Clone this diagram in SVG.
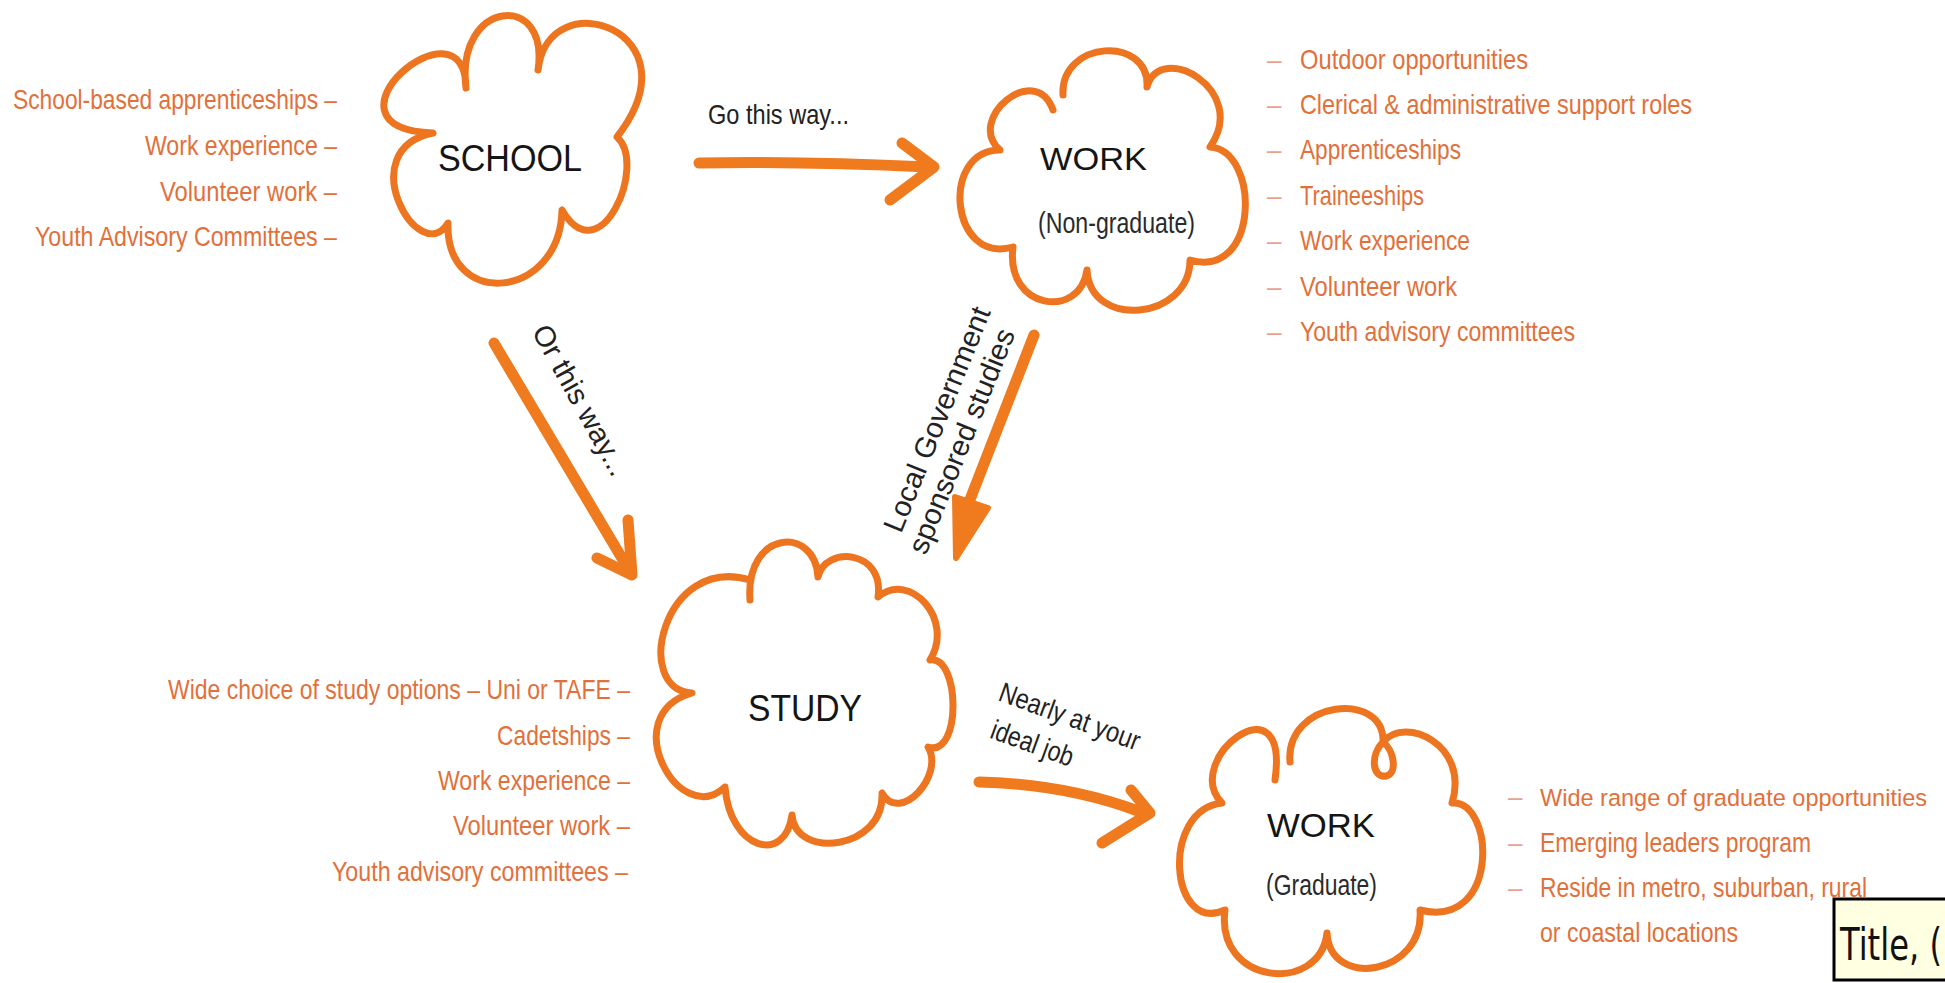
<svg xmlns="http://www.w3.org/2000/svg" width="1945" height="983" viewBox="0 0 1945 983">
<style>
.cloud{fill:none;stroke:#EE7520;stroke-width:7;stroke-linecap:round;stroke-linejoin:round}
.arrow{fill:none;stroke:#F07A1E;stroke-width:11;stroke-linecap:round;stroke-linejoin:round}
.head{fill:#F07A1E;stroke:#F07A1E;stroke-width:6;stroke-linejoin:round}
.title{font-family:"Liberation Sans",Arial,sans-serif;fill:#151515}
.sub{font-family:"Liberation Sans",Arial,sans-serif;fill:#2a2a2a;font-size:30px}
.lbl{font-family:"Liberation Sans",Arial,sans-serif;fill:#222;font-size:29px}
.nlbl{font-family:"Liberation Sans",Arial,sans-serif;fill:#222;font-size:28px}
.item{font-family:"Liberation Sans",Arial,sans-serif;font-size:28px;fill:#E2703A}
.dash{font-family:"Liberation Sans",Arial,sans-serif;font-size:26px;fill:#EBA08F}
</style>
<rect width="1945" height="983" fill="#ffffff"/>

<g id="connectors">
  <g id="edge-school-work">
    <path class="arrow" d="M699,163 Q800,161 928,167"/>
    <path class="arrow" d="M902,143 L934,167 L890,200"/>
  </g>
  <g id="edge-school-study">
    <path class="arrow" d="M494,343 L629,570"/>
    <path class="arrow" d="M628,520 L632,575 L597,558"/>
  </g>
  <g id="edge-work-study">
    <path class="arrow" d="M1034,335 L964,515"/>
    <polygon class="head" points="955,497 988,508 956,558"/>
  </g>
  <g id="edge-study-grad">
    <path class="arrow" d="M979,782 Q1065,784 1138,811"/>
    <path class="arrow" d="M1131,790 L1150,813 L1102,843"/>
  </g>
  <text class="nlbl" x="708" y="124" font-size="31" textLength="141" lengthAdjust="spacingAndGlyphs">Go this way...</text>
  <text class="lbl" transform="translate(572,405) rotate(61)" x="0" y="0" text-anchor="middle" textLength="168" lengthAdjust="spacingAndGlyphs">Or this way...</text>
  <g transform="translate(946,423) rotate(-68)">
    <text class="lbl" x="0" y="0" text-anchor="middle" textLength="240" lengthAdjust="spacingAndGlyphs">Local Government</text>
    <text class="lbl" x="-11" y="31" text-anchor="middle" textLength="240" lengthAdjust="spacingAndGlyphs">sponsored studies</text>
  </g>
  <g transform="translate(997,700) rotate(20)">
    <text class="nlbl" x="0" y="0" textLength="148" lengthAdjust="spacingAndGlyphs">Nearly at your</text>
    <text class="nlbl" x="5" y="38" textLength="86" lengthAdjust="spacingAndGlyphs">ideal job</text>
  </g>
</g>

<g id="node-school">
  <path class="cloud" d="M466,88 C455,0 550,-10 538,70 C548,-20 700,30 617,137 C648,165 600,275 562,210 C560,300 445,310 448,223 C420,270 350,150 433,133 C306,128 465,-8 466,88"/>
  <text class="title" x="438" y="171" font-size="36" textLength="144" lengthAdjust="spacingAndGlyphs">SCHOOL</text>
  <g class="item">
    <text x="13" y="109" textLength="324" lengthAdjust="spacingAndGlyphs">School-based apprenticeships –</text>
    <text x="145" y="155" textLength="192" lengthAdjust="spacingAndGlyphs">Work experience –</text>
    <text x="160" y="201" textLength="177" lengthAdjust="spacingAndGlyphs">Volunteer work –</text>
    <text x="35" y="246" textLength="302" lengthAdjust="spacingAndGlyphs">Youth Advisory Committees –</text>
  </g>
</g>

<g id="node-work-nongraduate">
  <path class="cloud" d="M1063,95 C1060,40 1150,35 1147,87 C1160,40 1250,90 1210,147 C1260,150 1260,280 1190,260 C1190,320 1090,330 1087,270 C1080,320 1005,310 1013,247 C950,265 940,150 1000,150 C965,120 1035,60 1053,110"/>
  <text class="title" x="1040" y="170" font-size="32" textLength="107" lengthAdjust="spacingAndGlyphs">WORK</text>
  <text class="sub" x="1038" y="233" textLength="157" lengthAdjust="spacingAndGlyphs">(Non-graduate)</text>
  <g class="dash">
    <text x="1267" y="69">–</text>
    <text x="1267" y="114">–</text>
    <text x="1267" y="159">–</text>
    <text x="1267" y="205">–</text>
    <text x="1267" y="250">–</text>
    <text x="1267" y="296">–</text>
    <text x="1267" y="341">–</text>
  </g>
  <g class="item">
    <text x="1300" y="69" textLength="228" lengthAdjust="spacingAndGlyphs">Outdoor opportunities</text>
    <text x="1300" y="114" textLength="392" lengthAdjust="spacingAndGlyphs">Clerical &amp; administrative support roles</text>
    <text x="1300" y="159" textLength="161" lengthAdjust="spacingAndGlyphs">Apprenticeships</text>
    <text x="1300" y="205" textLength="124" lengthAdjust="spacingAndGlyphs">Traineeships</text>
    <text x="1300" y="250" textLength="170" lengthAdjust="spacingAndGlyphs">Work experience</text>
    <text x="1300" y="296" textLength="157" lengthAdjust="spacingAndGlyphs">Volunteer work</text>
    <text x="1300" y="341" textLength="275" lengthAdjust="spacingAndGlyphs">Youth advisory committees</text>
  </g>
</g>

<g id="node-study">
  <path class="cloud" d="M750,600 C745,530 815,525 818,577 C825,545 885,550 878,597 C910,570 955,620 930,660 C960,655 962,758 928,747 C945,775 900,825 882,793 C885,850 795,860 792,815 C785,865 730,850 725,787 C680,830 615,715 692,693 C632,690 663,554 750,580"/>
  <text class="title" x="748" y="721" font-size="36" textLength="114" lengthAdjust="spacingAndGlyphs">STUDY</text>
  <g class="item">
    <text x="168" y="699" textLength="462" lengthAdjust="spacingAndGlyphs">Wide choice of study options – Uni or TAFE –</text>
    <text x="497" y="745" textLength="133" lengthAdjust="spacingAndGlyphs">Cadetships –</text>
    <text x="438" y="790" textLength="192" lengthAdjust="spacingAndGlyphs">Work experience –</text>
    <text x="453" y="835" textLength="177" lengthAdjust="spacingAndGlyphs">Volunteer work –</text>
    <text x="332" y="881" textLength="296" lengthAdjust="spacingAndGlyphs">Youth advisory committees –</text>
  </g>
</g>

<g id="node-work-graduate">
  <path class="cloud" d="M1290,762 C1285,700 1385,690 1383,742 C1370,755 1372,778 1386,776 C1398,774 1394,750 1383,742 C1405,715 1470,745 1452,803 C1495,800 1500,930 1420,910 C1425,975 1330,990 1327,933 C1320,995 1215,985 1225,910 C1170,935 1160,810 1222,803 C1180,760 1290,675 1275,780"/>
  <text class="title" x="1267" y="837" font-size="33" textLength="108" lengthAdjust="spacingAndGlyphs">WORK</text>
  <text class="sub" x="1266" y="895" textLength="111" lengthAdjust="spacingAndGlyphs">(Graduate)</text>
  <g class="dash">
    <text x="1508" y="806">–</text>
    <text x="1508" y="852">–</text>
    <text x="1508" y="897">–</text>
  </g>
  <g class="item">
    <text x="1540" y="806" font-size="24.5" textLength="387" lengthAdjust="spacingAndGlyphs">Wide range of graduate opportunities</text>
    <text x="1540" y="852" textLength="271" lengthAdjust="spacingAndGlyphs">Emerging leaders program</text>
    <text x="1540" y="897" textLength="327" lengthAdjust="spacingAndGlyphs">Reside in metro, suburban, rural</text>
    <text x="1540" y="942" textLength="198" lengthAdjust="spacingAndGlyphs">or coastal locations</text>
  </g>
</g>

<g id="title-box">
  <rect x="1834" y="899" width="130" height="81" fill="#FFFFE1" stroke="#000" stroke-width="3"/>
  <text x="1840" y="960" font-family="'DejaVu Sans','Liberation Sans',sans-serif" font-size="44" fill="#111" textLength="102" lengthAdjust="spacingAndGlyphs">Title, (</text>
</g>
</svg>
